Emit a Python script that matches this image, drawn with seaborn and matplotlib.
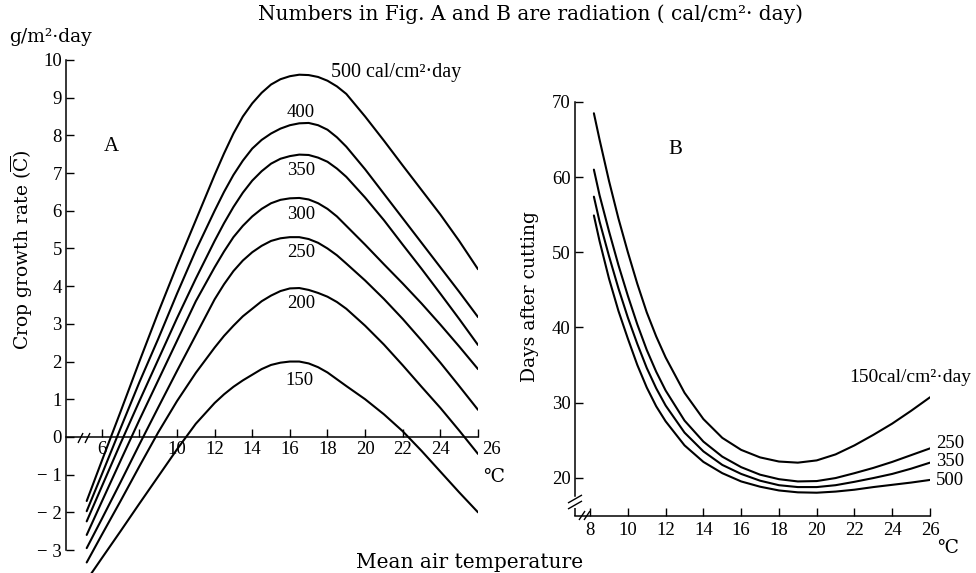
import matplotlib
matplotlib.use("Agg")
import matplotlib.pyplot as plt
import pandas as pd
import seaborn as sns
from matplotlib.lines import Line2D

# ---------------- Fig. A : crop growth rate (g/m2.day) vs mean air temperature
temp_a = [5.2, 6, 7, 8, 9, 10, 11, 12, 12.5, 13, 13.5, 14, 14.5, 15, 15.5, 16, 16.5,
          17, 17.5, 18, 18.5, 19, 20, 21, 22, 23, 24, 25, 26]
cgr_500 = [-1.7, -0.64, 0.67, 2.0, 3.3, 4.55, 5.75, 6.95, 7.52, 8.05, 8.5, 8.85, 9.13, 9.35, 9.49, 9.57, 9.61,
           9.6, 9.55, 9.45, 9.3, 9.1, 8.5, 7.86, 7.2, 6.55, 5.9, 5.2, 4.45]
cgr_400 = [-1.97, -1.0, 0.23, 1.45, 2.6, 3.8, 4.95, 6.0, 6.5, 6.95, 7.33, 7.65, 7.88, 8.05, 8.18, 8.27, 8.32,
           8.33, 8.27, 8.15, 7.95, 7.7, 7.1, 6.45, 5.8, 5.15, 4.5, 3.85, 3.18]
cgr_350 = [-2.24, -1.32, -0.17, 0.95, 2.05, 3.15, 4.2, 5.2, 5.67, 6.1, 6.48, 6.8, 7.05, 7.25, 7.38, 7.45, 7.49,
           7.48, 7.41, 7.3, 7.12, 6.9, 6.35, 5.75, 5.1, 4.46, 3.8, 3.13, 2.44]
cgr_300 = [-2.6, -1.72, -0.63, 0.45, 1.5, 2.55, 3.6, 4.5, 4.92, 5.3, 5.6, 5.85, 6.05, 6.2, 6.29, 6.33, 6.34,
           6.3, 6.2, 6.05, 5.85, 5.6, 5.1, 4.58, 4.07, 3.54, 2.98, 2.4, 1.8]
cgr_250 = [-2.95, -2.18, -1.2, -0.2, 0.78, 1.75, 2.7, 3.65, 4.05, 4.4, 4.68, 4.9, 5.07, 5.2, 5.27, 5.3, 5.3,
           5.25, 5.15, 5.0, 4.82, 4.6, 4.15, 3.66, 3.13, 2.56, 1.97, 1.35, 0.72]
cgr_200 = [-3.33, -2.6, -1.7, -0.78, 0.12, 0.95, 1.7, 2.37, 2.68, 2.95, 3.2, 3.4, 3.6, 3.75, 3.87, 3.94, 3.95,
           3.9, 3.82, 3.72, 3.58, 3.4, 2.95, 2.45, 1.9, 1.33, 0.77, 0.17, -0.45]
cgr_150 = [-3.8, -3.22, -2.5, -1.77, -1.05, -0.33, 0.35, 0.9, 1.13, 1.33, 1.5, 1.65, 1.8, 1.91, 1.97, 2.0, 2.0,
           1.95, 1.85, 1.71, 1.53, 1.35, 1.0, 0.6, 0.15, -0.37, -0.92, -1.47, -2.0]
radiation_a = ["500", "400", "350", "300", "250", "200", "150"]
series_a = [cgr_500, cgr_400, cgr_350, cgr_300, cgr_250, cgr_200, cgr_150]

yticks_a = [-3, -2, -1, 0, 1, 2, 3, 4, 5, 6, 7, 8, 9, 10]
yticklabels_a = ["\u2212 3", "\u2212 2", "\u2212 1", "0", "1", "2", "3", "4", "5", "6", "7", "8", "9", "10"]
xticks_a = [6, 8, 10, 12, 14, 16, 18, 20, 22, 24, 26]
xticklabels_a = ["6", "", "10", "12", "14", "16", "18", "20", "22", "24", ""]

# ---------------- Fig. B : days after cutting vs mean air temperature
temp_b = [8.2, 8.5, 9, 9.5, 10, 10.5, 11, 11.5, 12, 13, 14, 15, 16, 17, 18, 19, 20, 21, 22, 23, 24, 25, 26]
days_150 = [68.5, 65.0, 59.5, 54.5, 50.0, 45.8, 42.0, 38.8, 36.0, 31.3, 27.8, 25.3, 23.7, 22.7, 22.15, 22.0, 22.3, 23.1, 24.3, 25.7, 27.2, 28.9, 30.7]
days_250 = [61.0, 57.6, 52.8, 48.3, 44.2, 40.4, 37.0, 34.1, 31.6, 27.6, 24.8, 22.8, 21.4, 20.4, 19.8, 19.5, 19.55, 19.95, 20.6, 21.3, 22.1, 23.0, 23.9]
days_350 = [57.4, 54.1, 49.5, 45.2, 41.3, 37.8, 34.6, 31.9, 29.6, 26.0, 23.5, 21.7, 20.5, 19.6, 19.0, 18.75, 18.75, 19.0, 19.45, 19.95, 20.5, 21.2, 22.0]
days_500 = [54.9, 51.5, 46.5, 42.2, 38.5, 35.0, 32.0, 29.5, 27.5, 24.3, 22.1, 20.6, 19.5, 18.8, 18.3, 18.05, 18.0, 18.15, 18.4, 18.75, 19.05, 19.35, 19.7]
radiation_b = ["150", "250", "350", "500"]
series_b = [days_150, days_250, days_350, days_500]

yticks_b = [20, 30, 40, 50, 60, 70]
xticks_b = [8, 10, 12, 14, 16, 18, 20, 22, 24, 26]

# ---------------- style
sns.set_theme(style="ticks")
plt.rcParams.update({
    "font.family": ["Liberation Serif", "DejaVu Serif", "DejaVu Sans"],
    "mathtext.fontset": "dejavuserif",
    "text.color": "black",
    "axes.edgecolor": "black",
    "axes.labelcolor": "black",
    "xtick.color": "black",
    "ytick.color": "black",
    "axes.linewidth": 1.1,
})
WORD = ["DejaVu Serif", "DejaVu Sans"]

W, H = 976, 573
fig = plt.figure(figsize=(W / 100, H / 100), dpi=100)
fig.patch.set_facecolor("white")


def fx(px):
    return px / W


def fy(py):
    return 1 - py / H


def seg(x0, y0, x1, y1, lw=1.0):
    fig.add_artist(Line2D([fx(x0), fx(x1)], [fy(y0), fy(y1)], transform=fig.transFigure,
                          color="black", lw=lw, solid_capstyle="butt"))


FS = 13.5

# ---------------- panel A
axA = fig.add_axes([fx(66), 0, fx(478) - fx(66), (H - 60) / H])
axA.patch.set_alpha(0)
df_a = pd.concat([pd.DataFrame({"temp": temp_a, "cgr": v, "rad": r})
                  for r, v in zip(radiation_a, series_a)], ignore_index=True)
sns.lineplot(data=df_a, x="temp", y="cgr", hue="rad", hue_order=radiation_a,
             palette=["black"] * len(radiation_a), legend=False, estimator=None,
             sort=False, lw=1.5, ax=axA)
axA.set_xlim(4.1, 26)
axA.set_ylim(-3.61, 10)
for s in ["top", "right"]:
    axA.spines[s].set_visible(False)
axA.spines["left"].set_bounds(-3, 10)
axA.spines["bottom"].set_position(("data", 0))
axA.spines["bottom"].set_bounds(4.1, 26)
axA.set_yticks(yticks_a)
axA.set_yticklabels(yticklabels_a)
axA.set_xticks(xticks_a)
axA.set_xticklabels(xticklabels_a)
axA.tick_params(axis="both", direction="in", length=6, width=1, labelsize=FS)
axA.tick_params(axis="y", pad=3)
axA.tick_params(axis="x", pad=3)
axA.set_xlabel("")
axA.set_ylabel("")

axA.text(16.6, 8.62, "400", ha="center", va="center", fontsize=FS)
axA.text(16.6, 7.08, "350", ha="center", va="center", fontsize=FS)
axA.text(16.6, 5.91, "300", ha="center", va="center", fontsize=FS)
axA.text(16.6, 4.88, "250", ha="center", va="center", fontsize=FS)
axA.text(16.6, 3.55, "200", ha="center", va="center", fontsize=FS)
axA.text(16.5, 1.51, "150", ha="center", va="center", fontsize=FS)
axA.text(18.2, 9.66, "500 cal/cm\u00b2\u00b7day", ha="left", va="center", fontsize=14.5)
axA.text(6.5, 7.7, "A", ha="center", va="center", fontsize=15)

fig.text(fx(482), fy(450), "26", ha="left", va="center", fontsize=FS)
fig.text(fx(483), fy(477), "\u2103", ha="left", va="center", fontsize=FS, family=WORD)

# axis break marks on A
seg(78, 443, 83, 433)
seg(85, 443, 90, 433)

# ---------------- panel B
axB = fig.add_axes([fx(575), fy(516), fx(930) - fx(575), (516 - 102) / H])
axB.patch.set_alpha(0)
df_b = pd.concat([pd.DataFrame({"temp": temp_b, "days": v, "rad": r})
                  for r, v in zip(radiation_b, series_b)], ignore_index=True)
sns.lineplot(data=df_b, x="temp", y="days", hue="rad", hue_order=radiation_b,
             palette=["black"] * len(radiation_b), legend=False, estimator=None,
             sort=False, lw=1.5, ax=axB)
axB.set_xlim(7.2, 26)
axB.set_ylim(14.9, 70)
for s in ["top", "right"]:
    axB.spines[s].set_visible(False)
axB.spines["left"].set_bounds(17.6, 70)
axB.spines["bottom"].set_bounds(7.2, 26)
axB.set_yticks(yticks_b)
axB.set_xticks(xticks_b)
axB.tick_params(axis="both", direction="in", length=6, width=1, labelsize=FS)
axB.tick_params(axis="y", pad=3)
axB.tick_params(axis="x", pad=4)
axB.set_xlabel("")
axB.set_ylabel("")

axB.text(21.7, 33.3, "150cal/cm\u00b2\u00b7day", ha="left", va="center", fontsize=14)
axB.text(26.3, 24.5, "250", ha="left", va="center", fontsize=FS)
axB.text(26.3, 22.2, "350", ha="left", va="center", fontsize=FS)
axB.text(26.3, 19.6, "500", ha="left", va="center", fontsize=FS)
axB.text(12.5, 63.7, "B", ha="center", va="center", fontsize=15)

fig.text(fx(937), fy(548), "\u2103", ha="left", va="center", fontsize=FS, family=WORD)

# axis break marks on B
seg(568, 503, 582, 495)
seg(568, 509, 582, 501)
seg(575, 508, 575, 516, lw=1.1)
seg(579, 520, 585, 511)
seg(584, 520, 590, 511)

# ---------------- shared texts
fig.text(fx(531), fy(14), "Numbers in Fig. A and B are radiation ( cal/cm\u00b2\u00b7 day)",
         ha="center", va="center", fontsize=14.5, family=WORD)
fig.text(fx(50), fy(37), "g/m\u00b2\u00b7day", ha="center", va="center", fontsize=FS, family=WORD)
fig.text(fx(22), fy(250), r"Crop growth rate ($\overline{\mathrm{C}}$)", rotation=90,
         ha="center", va="center", fontsize=FS, family=WORD)
fig.text(fx(530), fy(297), "Days after cutting", rotation=90,
         ha="center", va="center", fontsize=FS, family=WORD)
fig.text(fx(470), fy(563), "Mean air temperature", ha="center", va="center", fontsize=14.5, family=WORD)

fig.savefig("out.png", dpi=100, facecolor="white")
